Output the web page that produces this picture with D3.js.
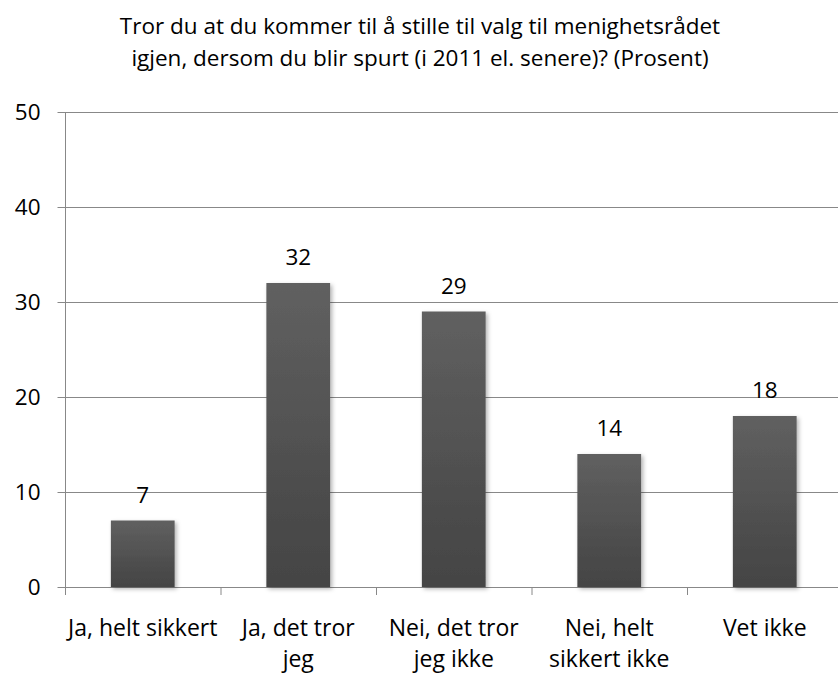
<!DOCTYPE html>
<html>
<head>
<meta charset="utf-8">
<script src="https://cdn.jsdelivr.net/npm/d3@7"></script>
<style>
  body { margin: 0; background: #fff; }
  svg { display: block; font-family: "Open Sans", sans-serif; }
</style>
</head>
<body>
<div id="chart"></div>
<script>
// chart data
const categories = ["Ja, helt sikkert", "Ja, det tror jeg", "Nei, det tror jeg ikke", "Nei, helt sikkert ikke", "Vet ikke"];
const categoryLines = [["Ja, helt sikkert"], ["Ja, det tror", "jeg"], ["Nei, det tror", "jeg ikke"], ["Nei, helt", "sikkert ikke"], ["Vet ikke"]];
const values = [7, 32, 29, 14, 18];
const yTicks = [0, 10, 20, 30, 40, 50];
const titleLines = ["Tror du at du kommer til å stille til valg til menighetsrådet", "igjen, dersom du blir spurt (i 2011 el. senere)? (Prosent)"];

const width = 838, height = 675;
const plotLeft = 65, plotTop = 112, plotBottom = 587, plotRight = 842.5;

const svg = d3.select("#chart").append("svg").attr("width", width).attr("height", height);

const defs = svg.append("defs");
const grad = defs.append("linearGradient").attr("id", "barGrad").attr("x1", 0).attr("y1", 0).attr("x2", 0).attr("y2", 1);
grad.append("stop").attr("offset", "0%").attr("stop-color", "#606060");
grad.append("stop").attr("offset", "100%").attr("stop-color", "#444444");
const shadow = defs.append("filter").attr("id", "shadow").attr("x", "-20%").attr("y", "-20%").attr("width", "150%").attr("height", "150%");
shadow.append("feDropShadow").attr("dx", 2).attr("dy", 2).attr("stdDeviation", 2).attr("flood-color", "#000").attr("flood-opacity", 0.3);

const x = d3.scaleBand().domain(categories).range([plotLeft, plotRight]).paddingInner(0.59).paddingOuter(0.295);
const y = d3.scaleLinear().domain([0, 50]).range([plotBottom, plotTop]);

// title
svg.append("g").selectAll("text").data(titleLines).enter().append("text")
    .attr("x", 420).attr("y", (d, i) => 34 + i * 32)
    .attr("text-anchor", "middle").attr("font-size", 22.5).attr("fill", "#000")
    .text(d => d);

// gridlines
svg.append("g").selectAll("line").data(yTicks.filter(d => d > 0)).enter().append("line")
    .attr("x1", plotLeft).attr("x2", width).attr("y1", d => y(d) + 0.5).attr("y2", d => y(d) + 0.5)
    .attr("stroke", "#888").attr("stroke-width", 1);

// y axis
const yAxis = svg.append("g").attr("transform", `translate(${plotLeft + 0.5},0)`)
    .call(d3.axisLeft(y).tickValues(yTicks).tickSize(8).tickPadding(17));
yAxis.select(".domain").attr("stroke", "#888").attr("d", `M0,${plotTop}V${plotBottom}`);
yAxis.selectAll(".tick line").attr("stroke", "#888");
yAxis.selectAll(".tick text").attr("font-size", 22.5).attr("fill", "#000").attr("font-family", "Open Sans, sans-serif");

// x axis
svg.append("line").attr("x1", plotLeft).attr("x2", width).attr("y1", plotBottom + 0.5).attr("y2", plotBottom + 0.5).attr("stroke", "#888");
const step = x.step();
svg.append("g").selectAll("line").data(d3.range(categories.length + 1)).enter().append("line")
    .attr("x1", i => plotLeft + i * step + 0.5).attr("x2", i => plotLeft + i * step + 0.5)
    .attr("y1", plotBottom).attr("y2", plotBottom + 8).attr("stroke", "#888");

// bars
svg.append("g").selectAll("rect").data(values).enter().append("rect")
    .attr("x", (d, i) => x(categories[i]))
    .attr("y", d => y(d))
    .attr("width", x.bandwidth())
    .attr("height", d => plotBottom - y(d))
    .attr("fill", "url(#barGrad)")
    .attr("filter", "url(#shadow)");

// value labels
svg.append("g").selectAll("text").data(values).enter().append("text")
    .attr("x", (d, i) => x(categories[i]) + x.bandwidth() / 2)
    .attr("y", d => y(d) - 18)
    .attr("text-anchor", "middle").attr("font-size", 22.5).attr("fill", "#000")
    .text(d => d);

// category labels
const cat = svg.append("g").selectAll("g").data(categoryLines).enter().append("g")
    .attr("transform", (d, i) => `translate(${x(categories[i]) + x.bandwidth() / 2},0)`);
cat.selectAll("text").data(d => d).enter().append("text")
    .attr("x", 0).attr("y", (d, j) => 636 + j * 31)
    .attr("text-anchor", "middle").attr("font-size", 23).attr("fill", "#000")
    .text(d => d);
</script>
</body>
</html>
